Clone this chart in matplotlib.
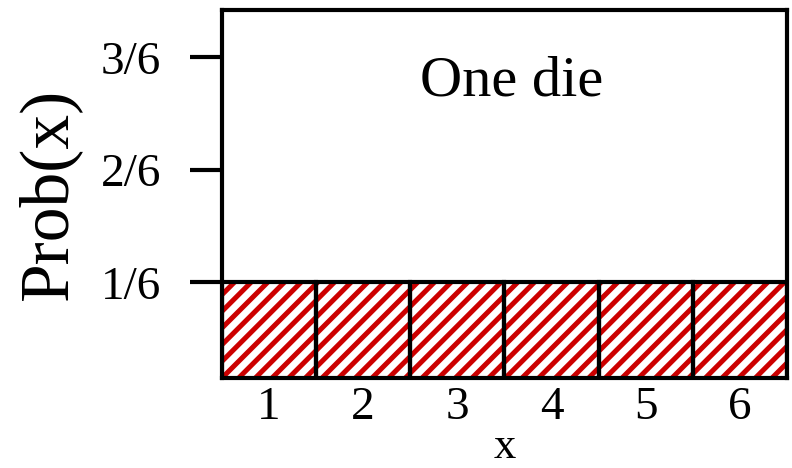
import matplotlib
matplotlib.use("Agg")
import matplotlib.pyplot as plt
import numpy as np

# data: one fair die
faces = [1, 2, 3, 4, 5, 6]
probs = [1/6, 1/6, 1/6, 1/6, 1/6, 1/6]
ytick_vals = [1/6, 2/6, 3/6]
ytick_labels = ["1/6", "2/6", "3/6"]

plt.rcParams['font.family'] = ['Liberation Serif', 'DejaVu Serif']
plt.rcParams['hatch.linewidth'] = 3.6

fig = plt.figure(figsize=(7.92, 4.68), dpi=100)
ax = fig.add_axes([222/792, 90/468, 565/792, 368/468])

# red hatch (hatch colour follows edgecolor), then black outlines on top
ax.bar(faces, probs, width=1.0, color='white', edgecolor='#cc0000',
       hatch='//', linewidth=0)
ax.bar(faces, probs, width=1.0, fill=False, edgecolor='black', linewidth=3)

ax.set_xlim(0.5, 6.5)
ax.set_ylim(0.025, 0.57)

ax.set_xticks(faces)
ax.set_xticklabels([str(f) for f in faces], fontsize=34)
ax.tick_params(axis='x', length=0, pad=6)
ax.set_yticks(ytick_vals)
ax.set_yticklabels(ytick_labels, fontsize=34)
ax.tick_params(axis='y', length=23, width=3, pad=21)

for s in ax.spines.values():
    s.set_linewidth(3)
    s.set_zorder(5)

ax.set_xlabel("x", fontsize=32, labelpad=-1)
ax.set_ylabel("Prob(x)", fontsize=50, labelpad=14)
ax.text(0.512, 0.805, "One die", transform=ax.transAxes, ha='center', va='center', fontsize=42)

fig.savefig("out.png", dpi=100)
